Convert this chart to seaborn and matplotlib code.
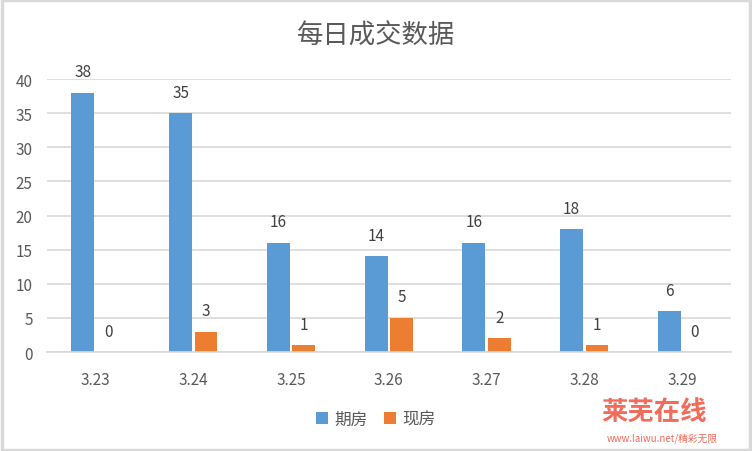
import matplotlib
matplotlib.use('Agg')
import matplotlib.pyplot as plt
import seaborn as sns
import pandas as pd
from matplotlib.patches import Rectangle

# data
dates = ['3.23', '3.24', '3.25', '3.26', '3.27', '3.28', '3.29']
qifang = [38, 35, 16, 14, 16, 18, 6]
xianfang = [0, 3, 1, 5, 2, 1, 0]
series = ['期房', '现房']
colors = ['#5B9BD5', '#ED7D31']

df = pd.DataFrame({
    'date': dates * 2,
    'count': qifang + xianfang,
    'type': [series[0]] * len(dates) + [series[1]] * len(dates),
})

sns.set_style('white')
plt.rcParams['font.family'] = ['Noto Sans CJK SC', 'DejaVu Sans']

fig = plt.figure(figsize=(7.52, 4.52), dpi=100)
ax = fig.add_axes([0.062, 0.219, 0.910, 0.604])

sns.barplot(data=df, x='date', y='count', hue='type', palette=colors,
            width=0.52, gap=0.1, saturation=1, linewidth=0, ax=ax)

for c in ax.containers:
    ax.bar_label(c, padding=9, fontsize=11, color='#404040')

ax.set_ylim(0, 40)
ax.set_yticks(range(0, 41, 5))
ax.set_xlim(-0.5, 6.5)
ax.grid(axis='y', color='#D9D9D9', linewidth=1.2)
ax.set_axisbelow(True)
for s in ['top', 'right', 'left']:
    ax.spines[s].set_visible(False)
ax.spines['bottom'].set_color('#D9D9D9')
ax.spines['bottom'].set_linewidth(1.2)
ax.tick_params(axis='both', length=0, labelsize=11, labelcolor='#595959')
ax.tick_params(axis='x', pad=14)
ax.tick_params(axis='y', pad=10)
ax.set_xlabel('')
ax.set_ylabel('')

fig.suptitle('每日成交数据', y=0.95, fontsize=19, color='#595959', fontweight='light')

handles, labels = ax.get_legend_handles_labels()
ax.get_legend().remove()
fig.legend(handles, labels, loc='center', bbox_to_anchor=(0.5, 0.07), ncol=2,
           frameon=False, fontsize=12, labelcolor='#595959',
           handlelength=0.7, handleheight=0.7, handletextpad=0.4, columnspacing=1.0)

# watermark
fig.text(0.94, 0.085, '莱芜在线', ha='right', va='center', fontsize=19,
         fontweight='bold', color='#F26B5B')
fig.text(0.955, 0.03, 'www.laiwu.net/精彩无限', ha='right', va='center', fontsize=7,
         color='#F26B5B', style='italic')

# grey outer frame
fig.patches.append(Rectangle((0.002, 0.002), 0.996, 0.996, transform=fig.transFigure,
                             fill=False, edgecolor='#D9D9D9', linewidth=2.5))

fig.savefig('out.png', dpi=100, facecolor='white')
